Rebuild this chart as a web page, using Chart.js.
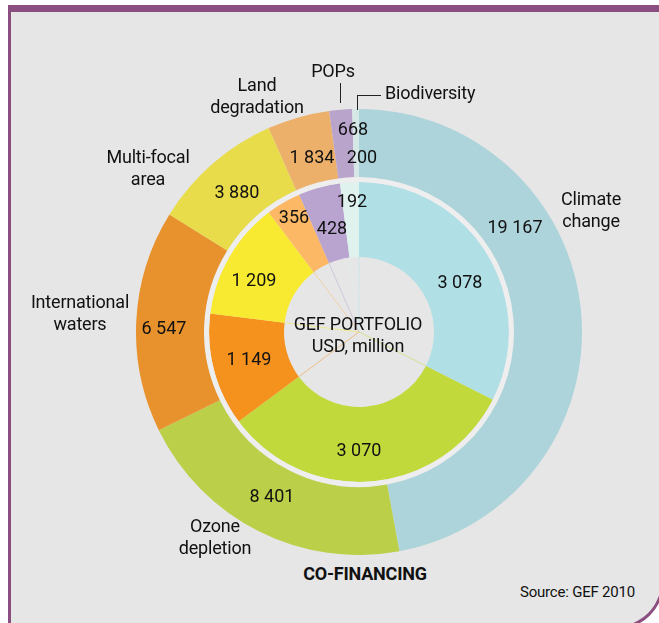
<!DOCTYPE html>
<html>
<head>
<meta charset="utf-8">
<script src="https://cdn.jsdelivr.net/npm/chart.js@4.4.0/dist/chart.umd.min.js"></script>
<style>
  body { margin: 0; background: #fff; width: 659px; height: 623px; overflow: hidden; position: relative;
         font-family: Roboto, "Noto Sans", sans-serif; color: #111; }
  #frame { position: absolute; left: 8px; top: 5px; width: 656px; height: 624px; box-sizing: border-box;
           background: #e6e6e6; border-left: 3px solid #8a4f80; border-top: 7px solid #8a4f80;
           border-right: 3px solid #8a4f80; border-bottom: 3px solid #8a4f80; border-bottom-right-radius: 47px; }
  #wrap { position: absolute; left: 136px; top: 109px; width: 446px; height: 446px; }
  .lbl { position: absolute; font-size: 18px; line-height: 22px; text-align: center; white-space: nowrap; letter-spacing: -0.2px; }
  .line { position: absolute; background: #222; }
</style>
</head>
<body>
<div id="frame"></div>
<div id="wrap"><canvas id="gefChart" width="446" height="446"></canvas></div>

<div class="lbl" style="left:197px;top:74px;width:120px;">Land<br>degradation</div>
<div class="lbl" style="left:303px;top:60px;width:60px;">POPs</div>
<div class="lbl" style="left:385px;top:82px;text-align:left;">Biodiversity</div>
<div class="lbl" style="left:88px;top:146px;width:120px;">Multi-focal<br>area</div>
<div class="lbl" style="left:15px;top:291px;width:130px;">International<br>waters</div>
<div class="lbl" style="left:541px;top:188px;width:100px;">Climate<br>change</div>
<div class="lbl" style="left:155px;top:515px;width:120px;">Ozone<br>depletion</div>
<div class="lbl" style="left:265px;top:563px;width:200px;font-weight:bold;">CO-FINANCING</div>
<div class="lbl" style="left:500px;top:581px;width:155px;font-size:15px;">Source: GEF 2010</div>
<div class="lbl" style="left:278px;top:313px;width:160px;">GEF PORTFOLIO<br>USD, million</div>

<div class="line" style="left:340px;top:83px;width:1px;height:20px;"></div>
<div class="line" style="left:357px;top:95px;width:1px;height:15px;"></div>
<div class="line" style="left:357px;top:95px;width:24px;height:1px;"></div>

<script>
// categories, clockwise from 12 o'clock
const categories = ["Climate change", "Ozone depletion", "International waters", "Multi-focal area",
                    "Land degradation", "POPs", "Biodiversity"];
// outer ring: co-financing, USD million
const coFinancing = [19167, 8401, 6547, 3880, 1834, 668, 200];
// inner ring: GEF portfolio, USD million
const gefPortfolio = [3078, 3070, 1149, 1209, 356, 428, 192];

const outerColors = ["#add4da", "#bccf48", "#e8922e", "#e8dc4a", "#ecb06b", "#b9a4cc", "#d5e8e6"];
const innerColors = ["#b0dfe6", "#c1d93b", "#f5921e", "#f7ea30", "#fcb864", "#b8a4cf", "#e0f2ee"];

// label offsets from the chart centre (px)
const outerLabelPos = [[156, -104], [-87, 165], [-195, -3], [-122, -139], [-47, -174], [-6, -202], [3, -174]];
const innerLabelPos = [[101, -49], [0, 119], [-110, 28], [-105, -51], [-65, -114], [-27, -103], [-7, -130]];

function fmt(v) {
    const s = String(v);
    return s.length > 3 ? s.slice(0, s.length - 3) + " " + s.slice(-3) : s;
}

const labelPlugin = {
    id: "sliceLabels",
    afterDraw(chart) {
        const ctx = chart.ctx;
        const arc0 = chart.getDatasetMeta(2).data[0];
        const cx = arc0.x, cy = arc0.y;
        ctx.save();
        // faint lines inside the hole
        chart.getDatasetMeta(2).data.forEach(function(a, i) {
            ctx.strokeStyle = innerColors[i];
            ctx.globalAlpha = 0.6;
            ctx.lineWidth = 0.8;
            ctx.beginPath();
            ctx.moveTo(cx, cy);
            ctx.lineTo(cx + Math.cos(a.startAngle) * a.innerRadius, cy + Math.sin(a.startAngle) * a.innerRadius);
            ctx.stroke();
        });
        ctx.globalAlpha = 1;
        ctx.fillStyle = "#111";
        ctx.font = '18px Roboto, "Noto Sans", sans-serif';
        ctx.textAlign = "center";
        ctx.textBaseline = "middle";
        coFinancing.forEach(function(v, i) {
            ctx.fillText(fmt(v), cx + outerLabelPos[i][0], cy + outerLabelPos[i][1]);
        });
        gefPortfolio.forEach(function(v, i) {
            ctx.fillText(fmt(v), cx + innerLabelPos[i][0], cy + innerLabelPos[i][1]);
        });
        ctx.restore();
    }
};

new Chart(document.getElementById("gefChart"), {
    type: "doughnut",
    data: {
        labels: categories,
        datasets: [
            { label: "Co-financing", data: coFinancing, backgroundColor: outerColors, borderWidth: 0, weight: 68 },
            { label: "gap", data: [1], backgroundColor: ["#eeeeee"], borderWidth: 0, weight: 5 },
            { label: "GEF portfolio", data: gefPortfolio, backgroundColor: innerColors, borderWidth: 0, weight: 75 }
        ]
    },
    options: {
        responsive: false,
        animation: false,
        events: [],
        cutout: 75,
        layout: { padding: 0 },
        plugins: { legend: { display: false }, tooltip: { enabled: false } }
    },
    plugins: [labelPlugin]
});
</script>
</body>
</html>
